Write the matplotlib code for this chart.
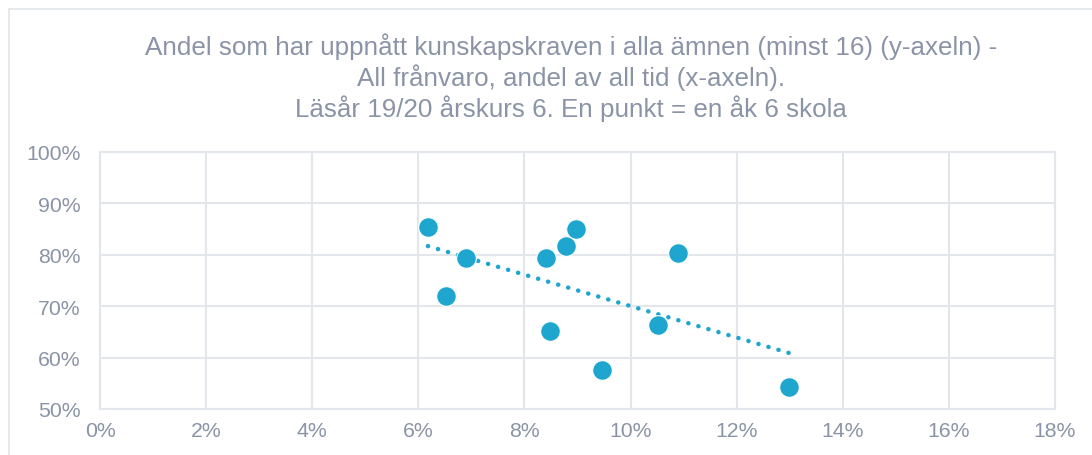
import numpy as np
import matplotlib.pyplot as plt
from matplotlib.patches import Rectangle
from matplotlib.ticker import PercentFormatter

plt.rcParams['font.family'] = ['Liberation Sans', 'DejaVu Sans']

# absence share (% of all time) and share reaching the grade requirements, one point per school
franvaro = [6.18, 6.52, 6.89, 8.40, 8.49, 8.78, 8.98, 9.47, 10.51, 10.90, 12.98]
andel = [85.4, 72.0, 79.4, 79.4, 65.2, 81.7, 85.0, 57.6, 66.3, 80.3, 54.3]

title = ("Andel som har uppnått kunskapskraven i alla ämnen (minst 16) (y-axeln) -\n"
         "All frånvaro, andel av all tid (x-axeln).\n"
         "Läsår 19/20 årskurs 6. En punkt = en åk 6 skola")

text_col = '#8a94a6'
grid_col = '#e3e6ea'
dot_col = '#1fa6cf'

fig = plt.figure(figsize=(10.92, 4.56), dpi=100)
W, H = 1092, 456
ax = fig.add_axes([100 / W, 1 - 410 / H, 955 / W, 257 / H])

# outer chart frame
fig.patches.append(Rectangle((9 / W, -0.1), 1.2, 1 - 10 / H + 0.1, transform=fig.transFigure,
                             fill=False, edgecolor='#e2e5e9', linewidth=1.2))

x = np.array(franvaro)
y = np.array(andel)
ax.scatter(x, y, s=200, color=dot_col, edgecolors='white', linewidths=0.8, zorder=3)

# linear trend line
k, m = np.polyfit(x, y, 1)
xt = np.array([x.min(), x.max()])
ax.plot(xt, k * xt + m, linestyle=(0, (0.05, 2.3)), color=dot_col, linewidth=3.2,
        dash_capstyle='round', zorder=2)

ax.set_xlim(0, 18)
ax.set_ylim(50, 100)
ax.set_xticks(np.arange(0, 19, 2))
ax.set_yticks(np.arange(50, 101, 10))
ax.xaxis.set_major_formatter(PercentFormatter(decimals=0))
ax.yaxis.set_major_formatter(PercentFormatter(decimals=0))
ax.grid(True, color=grid_col, linewidth=1.5)
ax.set_axisbelow(True)
for s in ax.spines.values():
    s.set_color(grid_col)
    s.set_linewidth(1.5)
ax.tick_params(length=0, labelsize=15.3, labelcolor=text_col)
ax.tick_params(axis='y', pad=14)
ax.tick_params(axis='x', pad=9)

fig.text(0.5 * (1 + 50 / W), 1 - 33 / H, title, ha='center', va='top', fontsize=18.7,
         color=text_col, linespacing=1.2)

fig.savefig('out.png', dpi=100)
